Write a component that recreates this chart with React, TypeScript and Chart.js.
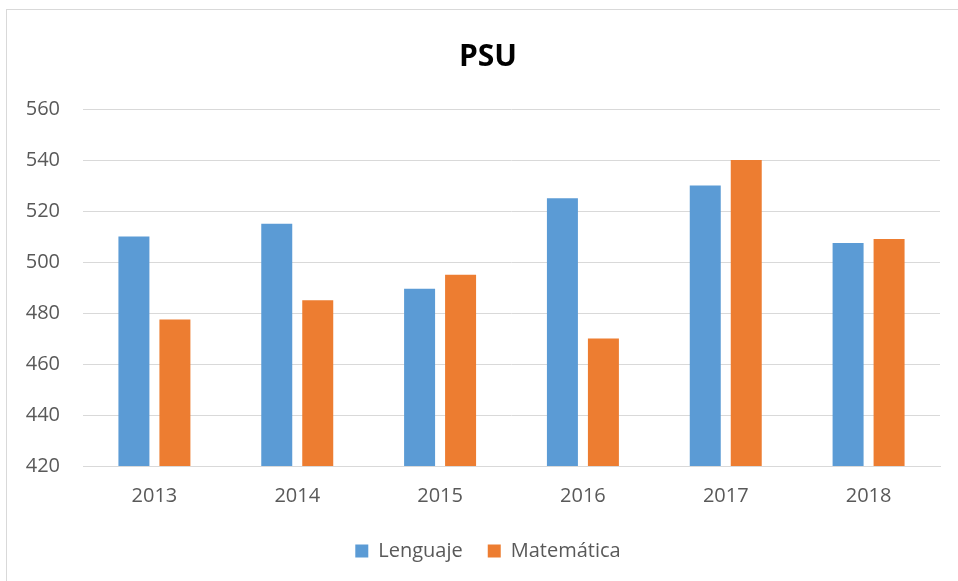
import React, { useEffect, useRef } from "react";
import { Chart, registerables } from "chart.js";

Chart.register(...registerables);

const years = ["2013", "2014", "2015", "2016", "2017", "2018"];
const lenguaje = [510, 515, 489.5, 525, 530, 507.5];
const matematica = [477.5, 485, 495, 470, 540, 509];
const seriesNames = ["Lenguaje", "Matemática"];
const chartTitle = "PSU";
const yMin = 420;
const yMax = 560;
const yStep = 20;

const FONT = "'Open Sans', 'Noto Sans', sans-serif";
const TEXT = "#595959";

const legendShift = {
  id: "legendShift",
  afterLayout(chart: any) {
    if (chart.legend) {
      chart.legend.top -= 10;
      chart.legend.bottom -= 10;
    }
  },
};

export default function App() {
  const ref = useRef<HTMLCanvasElement | null>(null);

  useEffect(() => {
    if (!ref.current) return;
    const chart = new Chart(ref.current, {
      type: "bar",
      data: {
        labels: years,
        datasets: [
          {
            label: seriesNames[0],
            data: lenguaje,
            backgroundColor: "#5B9BD5",
            categoryPercentage: 0.574,
            barPercentage: 0.756,
          },
          {
            label: seriesNames[1],
            data: matematica,
            backgroundColor: "#ED7D31",
            categoryPercentage: 0.574,
            barPercentage: 0.756,
          },
        ],
      },
      plugins: [legendShift],
      options: {
        animation: false,
        responsive: false,
        maintainAspectRatio: false,
        layout: { padding: 0 },
        plugins: {
          title: {
            display: true,
            text: chartTitle,
            color: "#000000",
            font: { family: FONT, size: 30, weight: "bold", lineHeight: 1.2 },
            padding: { top: 39, bottom: 34 },
          },
          legend: {
            position: "bottom",
            labels: {
              color: TEXT,
              font: { family: FONT, size: 20 },
              boxWidth: 13,
              boxHeight: 13,
              padding: 25,
            },
          },
          tooltip: { enabled: false },
        },
        scales: {
          x: {
            grid: { display: false, drawTicks: false },
            border: { display: true, color: "#d9d9d9" },
            ticks: { color: TEXT, font: { family: FONT, size: 20 }, padding: 18 },
          },
          y: {
            min: yMin,
            max: yMax,
            afterFit: (s: any) => {
              s.width = 83;
            },
            grid: { color: "#d9d9d9", drawTicks: false },
            border: { display: false },
            ticks: {
              stepSize: yStep,
              color: TEXT,
              font: { family: FONT, size: 20 },
              padding: 23,
            },
          },
          yRight: {
            position: "right",
            min: yMin,
            max: yMax,
            afterFit: (s: any) => {
              s.width = 36;
            },
            grid: { display: false, drawTicks: false },
            border: { display: false },
            ticks: { display: false },
          },
        },
      },
    });
    return () => chart.destroy();
  }, []);

  return (
    <div style={{ position: "fixed", left: 0, top: 0, width: 958, height: 581, background: "#fff", overflow: "hidden" }}>
      <div
        style={{
          position: "absolute",
          left: 6,
          top: 9,
          width: 1000,
          height: 700,
          border: "1px solid #d9d9d9",
        }}
      />
      <canvas ref={ref} width={976} height={581} style={{ position: "absolute", left: 0, top: 0 }} />
    </div>
  );
}
